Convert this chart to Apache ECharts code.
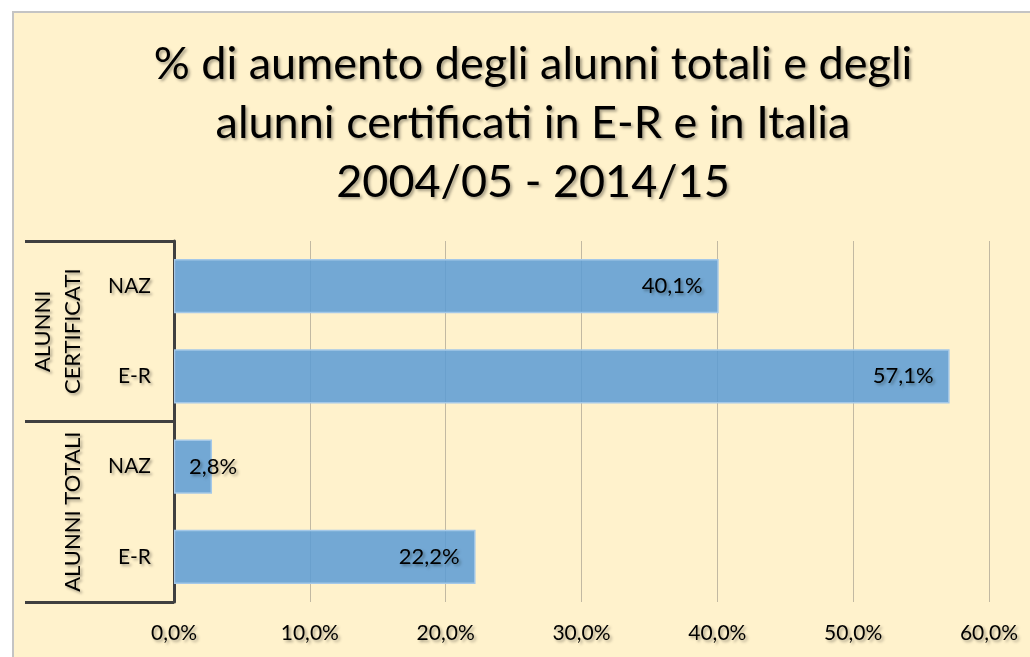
<!DOCTYPE html>
<html>
<head>
<meta charset="utf-8">
<script src="https://cdn.jsdelivr.net/npm/echarts@6/dist/echarts.min.js"></script>
<style>
html,body{margin:0;padding:0;background:#fff;width:1030px;height:657px;overflow:hidden;}
#frame{position:absolute;left:12px;top:11px;width:1018px;height:646px;box-sizing:border-box;border-left:2px solid #C4C4C4;border-top:2px solid #C4C4C4;background:#FFF2CC;}
#chart{width:1016px;height:644px;}
</style>
</head>
<body>
<div id="frame"><div id="chart"></div></div>
<script>
// Data
const titleLines = ['% di aumento degli alunni totali e degli', 'alunni certificati in E-R e in Italia', '2004/05 - 2014/15'];
const groups = ['ALUNNI\nCERTIFICATI', 'ALUNNI TOTALI'];
const categories = ['NAZ', 'E-R', 'NAZ', 'E-R'];
const values = [40.1, 57.1, 2.8, 22.2];
const xTicks = { min: 0, max: 60, interval: 10 };

const FONT = 'Lato, "Open Sans", sans-serif';
const shadow = { textShadowColor: 'rgba(0,0,0,0.35)', textShadowBlur: 3, textShadowOffsetX: 2, textShadowOffsetY: 2 };
const fmt = v => v.toFixed(1).replace('.', ',') + '%';

const catKeys = categories.map((c, i) => i + '|' + c);

const chart = echarts.init(document.getElementById('chart'));
chart.setOption({
  backgroundColor: 'transparent',
  animation: false,
  title: {
    text: titleLines.join('\n'),
    left: 514, top: 17,
    textAlign: 'center',
    textStyle: Object.assign({ fontFamily: FONT, fontSize: 45, fontWeight: 'normal', color: '#000', lineHeight: 59 }, shadow)
  },
  grid: { left: 160, right: 41, top: 228, bottom: 55, containLabel: false },
  xAxis: {
    type: 'value', min: xTicks.min, max: xTicks.max, interval: xTicks.interval,
    axisLine: { show: false }, axisTick: { show: false },
    splitLine: { show: true, lineStyle: { color: '#C2B9A2', width: 1 } },
    axisLabel: Object.assign({ fontFamily: FONT, fontSize: 21, color: '#000', margin: 21, formatter: fmt }, shadow)
  },
  yAxis: [
    {
      type: 'category', data: catKeys, inverse: true, position: 'left',
      axisLine: { show: true, lineStyle: { color: '#404040', width: 3 } },
      axisTick: { show: false },
      axisLabel: Object.assign({ fontFamily: FONT, fontSize: 21, color: '#000', margin: 23, interval: 0, formatter: v => v.split('|')[1] }, shadow)
    },
    {
      type: 'category', data: groups, inverse: true, position: 'left',
      axisLine: { show: false },
      axisTick: { show: true, interval: 0, length: 149, lineStyle: { color: '#404040', width: 3 } },
      axisLabel: Object.assign({ fontFamily: FONT, fontSize: 22, color: '#000', margin: 86, rotate: 90, interval: 0, lineHeight: 30 }, shadow)
    }
  ],
  series: [{
    type: 'bar', yAxisIndex: 0, barWidth: '60%',
    data: values.map(v => ({
      value: v,
      label: v < 10 ? { position: 'insideLeft', distance: 15 } : undefined
    })),
    itemStyle: { color: 'rgba(91,155,213,0.85)', borderColor: '#A4C8E8', borderWidth: 1.5 },
    label: Object.assign({ show: true, position: 'insideRight', distance: 16, fontFamily: FONT, fontSize: 22, color: '#000', formatter: p => fmt(p.value) }, shadow)
  }]
});
</script>
</body>
</html>
